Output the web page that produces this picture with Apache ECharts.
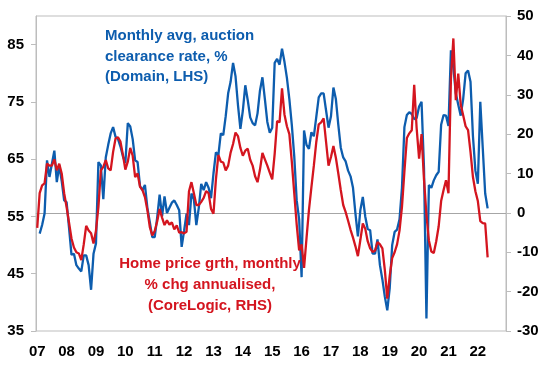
<!DOCTYPE html>
<html><head><meta charset="utf-8">
<script src="https://cdn.jsdelivr.net/npm/echarts@6/dist/echarts.min.js"></script>
<style>html,body{margin:0;padding:0;background:#fff}#c{width:548px;height:366px}</style>
</head><body><div id="c"></div>
<script>
// Monthly, Jan 2007 .. Dec 2022 (categories); data through May 2022
const years = [2007,2008,2009,2010,2011,2012,2013,2014,2015,2016,2017,2018,2019,2020,2021,2022];
const months = [];
years.forEach(y => { for (let m = 1; m <= 12; m++) months.push(y + '-' + (m < 10 ? '0' + m : m)); });

// Auction clearance rate, % (Domain, LHS)
const clearance = [
  null, 52.0, 53.5, 55.5, 64.8, 61.9, 64.2, 66.5, 61.0, 63.9, 61.2, 57.8,
  57.5, 53.0, 48.3, 48.5, 46.5, 45.9, 45.4, 48.2, 48.2, 46.5, 42.2, 48.5,
  50.3, 64.5, 63.9, 58.0, 65.3, 67.5, 69.5, 70.6, 68.9, 68.5, 67.2, 65.5,
  64.3, 71.3, 70.7, 68.5, 64.8, 64.5, 60.3, 59.6, 60.5, 56.5, 54.0, 51.4,
  51.4, 54.8, 58.8, 55.0, 58.5, 55.6, 56.5, 57.4, 57.8, 57.0, 56.1, 49.7,
  52.5, 55.5, 53.5, 59.0, 58.0, 53.5, 56.5, 60.7, 59.6, 61.0, 60.0, 58.2,
  62.5, 66.2, 65.7, 69.5, 69.2, 72.5, 76.5, 78.5, 81.8, 79.5, 74.5, 70.3,
  73.5, 77.9, 75.3, 72.3, 71.3, 70.9, 73.0, 77.0, 79.3, 75.5, 71.5, 69.6,
  70.5, 81.8, 82.5, 81.5, 84.3, 82.0, 79.2, 75.5, 71.0, 65.5, 57.8, 54.5,
  44.4, 70.0, 67.5, 66.8, 69.7, 69.0, 72.4, 75.8, 76.5, 76.5, 73.5, 70.5,
  72.5, 77.5, 75.5, 71.0, 67.0, 65.3, 64.6, 63.0, 62.0, 60.0, 55.5, 51.5,
  56.1, 58.4, 55.0, 52.8, 52.6, 48.5, 48.5, 51.0, 46.5, 44.0, 41.0, 38.6,
  42.5, 50.0, 52.3, 52.7, 54.5, 60.0, 70.6, 72.7, 73.2, 72.9, 72.0, 72.2,
  74.2, 75.0, 63.5, 37.2, 60.5, 60.0, 61.3, 62.2, 62.8, 71.0, 72.7, 72.6,
  70.8, 84.0, 81.0, 76.5, 74.5, 72.6, 75.5, 80.0, 80.5, 78.5, 69.0, 63.0,
  60.7, 75.0, 67.0, 59.0, 56.4
];

// Home price growth, monthly % chg annualised (CoreLogic, RHS)
const priceGrowth = [
  -3.8, 5.0, 7.0, 7.5, 12.5, 12.0, 12.0, 13.6, 10.8, 12.5, 10.0, 5.0,
  1.5, -2.5, -6.5, -8.8, -10.0, -10.3, -12.0, -8.0, -3.3, -4.5, -5.2, -7.8,
  -4.5, 1.5, 10.8, 11.7, 13.4, 11.3, 10.8, 15.5, 18.9, 19.2, 18.1, 14.8,
  11.0, 13.0, 16.5, 14.5, 9.1, 10.0, 6.6, 5.8, 4.0, 0.7, -3.6, -5.7,
  -4.6, -2.2, 1.0, -1.2, -3.1, -1.9, -3.0, -2.4, -4.2, -3.2, -5.0, -4.9,
  -5.2, -4.8, 5.5, 7.8, 5.0, 2.0, 2.0, 2.8, 3.8, 5.5, 5.0, 1.0,
  -0.2, 8.5, 14.7, 13.0, 12.8, 10.8, 12.0, 15.3, 17.5, 20.4, 19.5, 16.5,
  14.5, 15.8, 16.3, 13.5, 12.0, 9.3, 7.8, 11.0, 15.2, 13.6, 12.0, 10.2,
  8.5, 15.0, 23.3, 23.0, 31.6, 25.0, 22.0, 20.0, 13.0, 5.0, -3.0, -9.5,
  -8.0, -14.0, -6.5, 0.7, 6.5, 12.0, 18.0, 22.5, 23.0, 24.0, 18.0, 12.0,
  14.2, 17.0, 14.0, 10.0, 5.8, 2.0, 0.2, -2.0, -4.3, -6.3, -8.5, -11.0,
  -6.9, -2.7, -4.0, -7.2, -9.0, -9.9, -9.6, -7.4, -8.0, -9.0, -14.5, -21.8,
  -16.0, -11.5, -10.0, -8.0, -4.5, 1.5, 10.5, 19.0, 20.2, 21.0, 32.5, 21.5,
  13.8, 20.0, 8.5, -0.5, -7.0, -9.8, -10.2, -7.2, -3.4, 3.0, 5.8, 8.3,
  5.0, 34.0, 44.3, 28.6, 35.4, 27.5, 24.8, 22.0, 21.0, 15.5, 9.1, 5.5,
  3.0, -2.1, -2.6, -2.7, -11.3
];

const leftAxis = { min: 35, max: 90, interval: 10 };
const rightAxis = { min: -30, max: 50, interval: 10 };

const BLUE = '#0D5DAE';
const RED = '#D4151F';
const FONT = '"Liberation Sans", Arial, sans-serif';
const AX = '#BDBDBD';

const chart = echarts.init(document.getElementById('c'), null, { renderer: 'canvas' });
chart.setOption({
  animation: false,
  grid: { left: 36, right: 42, top: 16, bottom: 35, show: true, borderColor: AX, borderWidth: 1 },
  xAxis: {
    type: 'category', data: months, boundaryGap: true,
    axisLine: { lineStyle: { color: AX } },
    axisTick: { interval: 11, length: 5, lineStyle: { color: AX } },
    axisLabel: {
      interval: 11, margin: 13, color: '#000', fontWeight: 'bold', fontSize: 15, fontFamily: FONT,
      formatter: v => v.slice(2, 4)
    },
    splitLine: { show: false }
  },
  yAxis: [
    {
      type: 'value', position: 'left', min: leftAxis.min, max: leftAxis.max, interval: leftAxis.interval,
      axisLine: { show: true, lineStyle: { color: AX } },
      axisTick: { show: true, length: 5, lineStyle: { color: AX } },
      axisLabel: { showMaxLabel: false, margin: 12, color: '#000', fontWeight: 'bold', fontSize: 15, fontFamily: FONT },
      splitLine: { show: false }
    },
    {
      type: 'value', position: 'right', min: rightAxis.min, max: rightAxis.max, interval: rightAxis.interval,
      axisLine: { show: true, lineStyle: { color: AX } },
      axisTick: { show: true, length: 5, lineStyle: { color: AX } },
      axisLabel: { margin: 11, color: '#000', fontWeight: 'bold', fontSize: 15, fontFamily: FONT },
      splitLine: { show: false }
    }
  ],
  series: [
    {
      name: 'Clearance', type: 'line', yAxisIndex: 0, data: clearance,
      showSymbol: false, symbol: 'none', lineStyle: { color: BLUE, width: 2.3 }, z: 3
    },
    {
      name: 'Price', type: 'line', yAxisIndex: 1, data: priceGrowth,
      showSymbol: false, symbol: 'none', lineStyle: { color: RED, width: 2.3 }, z: 4,
      markLine: {
        silent: true, symbol: 'none', label: { show: false },
        lineStyle: { color: '#A6A6A6', width: 1, type: 'solid' },
        data: [{ yAxis: 0 }], z: 1
      }
    }
  ],
  graphic: [
    {
      type: 'text', left: 105, top: 26, z: 10,
      style: {
        text: 'Monthly avg, auction\nclearance rate, %\n(Domain, LHS)',
        font: 'bold 15px ' + FONT, fill: BLUE, lineHeight: 20.5
      }
    },
    {
      type: 'text', x: 210, y: 253, z: 10,
      style: {
        text: 'Home price grth, monthly\n% chg annualised,\n(CoreLogic, RHS)',
        font: 'bold 15px ' + FONT, fill: RED, lineHeight: 21, textAlign: 'center'
      }
    }
  ]
});
</script></body></html>
